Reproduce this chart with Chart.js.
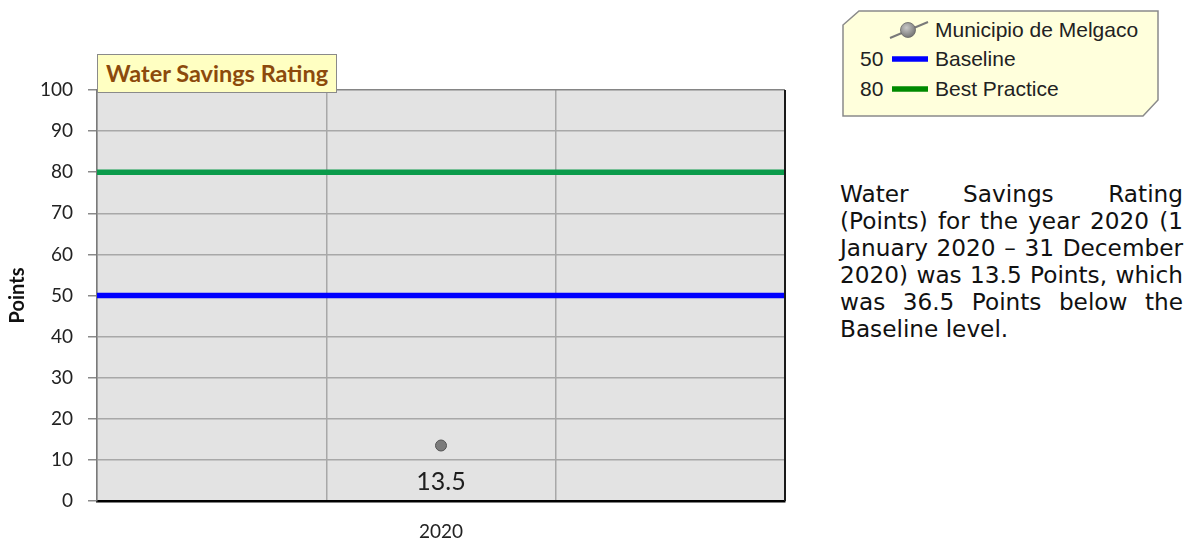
<!DOCTYPE html>
<html>
<head>
<meta charset="utf-8">
<script src="https://cdn.jsdelivr.net/npm/chart.js@4.4.1/dist/chart.umd.min.js"></script>
<style>
  html, body { margin: 0; padding: 0; background: #fff; }
  #wrap { position: relative; width: 1192px; height: 541px; overflow: hidden; }
  #chart { position: absolute; left: 0; top: 0; }
  #titleBox {
    position: absolute; left: 97px; top: 54px; width: 238px; height: 37px;
    background: #ffffc2; border: 1.5px solid #8a8a8a; box-sizing: content-box;
    font-family: Lato, sans-serif; font-weight: bold; font-size: 23.5px; color: #8c4a0c;
    line-height: 37px; text-indent: 8px; white-space: nowrap; overflow: hidden;
  }
  #legend { position: absolute; left: 842px; top: 10px; width: 318px; height: 108px; }
  #legend svg { position: absolute; left: 0; top: 0; }
  .lrow { position: absolute; font-family: "Liberation Sans", Arial, sans-serif; font-size: 21px; color: #222; white-space: nowrap; line-height: 22px; }
  #para {
    position: absolute; left: 840px; top: 180px; width: 343px;
    font-family: "DejaVu Sans", Verdana, sans-serif; font-size: 23.2px; line-height: 27px;
    text-align: justify; color: #111;
  }
</style>
</head>
<body>
<div id="wrap">
  <canvas id="chart" width="800" height="541"></canvas>
  <div id="titleBox">Water Savings Rating</div>
  <div id="legend">
    <svg width="318" height="108" viewBox="0 0 318 108">
      <polygon points="17,1 316,1 316,90 301,106 1,106 1,15" fill="#ffffdc" stroke="#8a8a8a" stroke-width="1.5"/>
      <line x1="48" y1="28" x2="86" y2="12" stroke="#7a7a7a" stroke-width="2"/>
      <defs><radialGradient id="g" cx="0.4" cy="0.35" r="0.7"><stop offset="0" stop-color="#c8c8c8"/><stop offset="1" stop-color="#707070"/></radialGradient></defs>
      <circle cx="66" cy="20" r="7.5" fill="url(#g)" stroke="#666" stroke-width="0.8"/>
      <line x1="50" y1="49" x2="86" y2="49" stroke="#0000ff" stroke-width="5.5"/>
      <line x1="50" y1="79" x2="86" y2="79" stroke="#008a00" stroke-width="5.5"/>
    </svg>
    <div class="lrow" id="lr1" style="left:93px; top:9px;"></div>
    <div class="lrow" id="lr2v" style="left:18px; top:38px;"></div>
    <div class="lrow" id="lr2" style="left:93px; top:38px;"></div>
    <div class="lrow" id="lr3v" style="left:18px; top:68px;"></div>
    <div class="lrow" id="lr3" style="left:93px; top:68px;"></div>
  </div>
  <div id="para">Water Savings Rating (Points) for the year 2020 (1 January 2020 &ndash; 31 December 2020) was 13.5 Points, which was 36.5 Points below the Baseline level.</div>
</div>
<script>
// ---- data ----
const categories = ['', '2020', ''];
const seriesName = 'Municipio de Melgaco';
const ratingValues = [null, 13.5, null];
const baselineName = 'Baseline';
const baselineValue = 50;
const bestPracticeName = 'Best Practice';
const bestPracticeValue = 80;
const yTickValues = [0, 10, 20, 30, 40, 50, 60, 70, 80, 90, 100];

document.getElementById('lr1').textContent = seriesName;
document.getElementById('lr2v').textContent = String(baselineValue);
document.getElementById('lr2').textContent = baselineName;
document.getElementById('lr3v').textContent = String(bestPracticeValue);
document.getElementById('lr3').textContent = bestPracticeName;

const plotBg = {
  id: 'plotBg',
  beforeDraw(chart) {
    const {ctx, chartArea: a} = chart;
    ctx.save();
    ctx.fillStyle = '#e3e3e3';
    ctx.fillRect(a.left, a.top, a.right - a.left, a.bottom - a.top);
    ctx.restore();
  },
  afterDraw(chart) {
    const {ctx, chartArea: a} = chart;
    ctx.save();
    ctx.strokeStyle = '#1a1a1a';
    ctx.lineWidth = 2;
    ctx.beginPath();
    ctx.moveTo(a.right, a.top);
    ctx.lineTo(a.right, a.bottom);
    ctx.stroke();
    ctx.restore();
  }
};

const valueLabels = {
  id: 'valueLabels',
  afterDatasetsDraw(chart) {
    const {ctx} = chart;
    const meta = chart.getDatasetMeta(0);
    ctx.save();
    ctx.font = '25px Lato, sans-serif';
    ctx.fillStyle = '#1e1e1e';
    ctx.textAlign = 'center';
    ctx.textBaseline = 'middle';
    meta.data.forEach((el, i) => {
      const v = ratingValues[i];
      if (v === null || v === undefined) return;
      ctx.fillText(String(v), el.x, el.y + 36);
    });
    ctx.restore();
  }
};

new Chart(document.getElementById('chart'), {
  type: 'line',
  data: {
    labels: categories,
    datasets: [
      {
        label: seriesName,
        data: ratingValues,
        showLine: false,
        pointRadius: 5.5,
        pointBackgroundColor: '#7c7c7c',
        pointBorderColor: '#555555',
        pointBorderWidth: 1,
        xAxisID: 'x',
        order: 0
      },
      {
        label: baselineName,
        data: [{x: 0, y: baselineValue}, {x: 1, y: baselineValue}],
        borderColor: '#0000ff',
        borderWidth: 5.5,
        pointRadius: 0,
        xAxisID: 'x2',
        order: 1
      },
      {
        label: bestPracticeName,
        data: [{x: 0, y: bestPracticeValue}, {x: 1, y: bestPracticeValue}],
        borderColor: '#0b9b4b',
        borderWidth: 5.5,
        pointRadius: 0,
        xAxisID: 'x2',
        order: 2
      }
    ]
  },
  options: {
    responsive: false,
    animation: false,
    layout: { padding: { left: 0, top: 90, right: 15, bottom: 0 } },
    plugins: { legend: { display: false }, tooltip: { enabled: false }, title: { display: false } },
    scales: {
      x: {
        type: 'category',
        offset: true,
        grid: { display: true, offset: true, color: '#a8a8a8', lineWidth: 1.5, drawTicks: false },
        border: { display: true, color: '#000000', width: 2.5 },
        ticks: { color: '#222', font: { family: 'Lato', size: 19 }, padding: 19, maxRotation: 0, autoSkip: false },
        afterFit(scale) { scale.height = 40; }
      },
      x2: { type: 'linear', min: 0, max: 1, display: false },
      y: {
        min: 0, max: 100,
        afterBuildTicks(scale) { scale.ticks = yTickValues.map(v => ({value: v})); },
        grid: {
          color: (c) => (c.tick && c.tick.value === 100) ? '#858585' : '#a8a8a8',
          lineWidth: 1.5, tickLength: 9, tickColor: '#8a8a8a'
        },
        border: { display: true, color: '#7a7a7a', width: 1.5 },
        ticks: { color: '#222', font: { family: 'Lato', size: 19 }, padding: 15 },
        title: { display: true, text: 'Points', color: '#111', font: { family: 'Lato', size: 20, weight: 'bold' }, padding: { top: 6, bottom: 0 } },
        afterFit(scale) { scale.width = 97; }
      }
    }
  },
  plugins: [plotBg, valueLabels]
});
</script>
</body>
</html>
